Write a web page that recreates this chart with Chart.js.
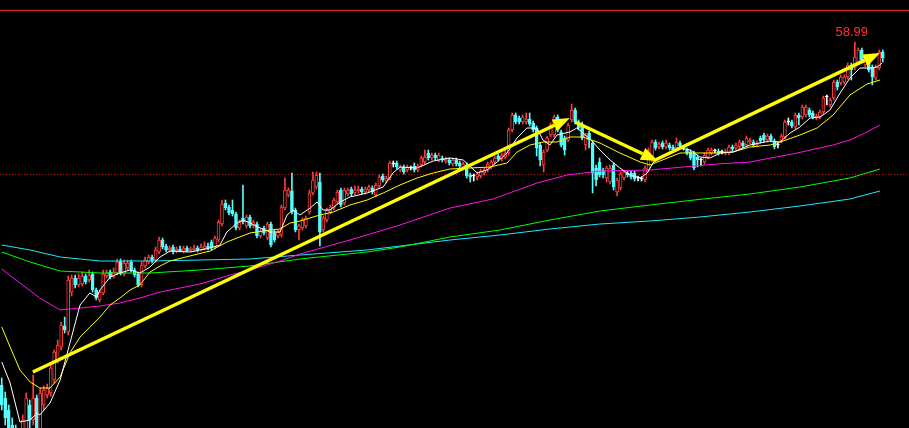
<!DOCTYPE html>
<html>
<head>
<meta charset="utf-8">
<script src="https://cdn.jsdelivr.net/npm/chart.js@4.4.1/dist/chart.umd.min.js"></script>
<style>
  html, body { margin: 0; padding: 0; background: #000; }
  #c { display: block; }
</style>
</head>
<body>
<canvas id="c" width="909" height="428"></canvas>
<script>
// 일봉 데이터 (시가/고가/저가/종가)
var opens = [
  41.85, 41.2, 40.6, 39.85, 39.6, 39.1, 38.85, 39.6, 40.85, 40.1,
  41.2, 39.6, 40.85, 41.35, 41.45, 42.1, 43.1, 43.75, 44.8, 44.5,
  46.5, 47.2, 46.85, 46.9, 47.3, 47.1, 47.4, 46.6, 46.1, 46.45,
  47.3, 47.5, 47.25, 47.45, 48.05, 47.4, 47.7, 48.0, 47.6, 47.4,
  46.85, 47.8, 48.0, 48.25, 48.1, 48.5, 49.1, 48.8, 48.6, 48.75,
  48.55, 48.65, 48.55, 48.7, 48.55, 48.6, 48.7, 48.6, 48.65, 48.8,
  49.0, 48.75, 49.1, 49.9, 50.95, 50.75, 50.6, 50.4, 49.7, 50.2,
  49.8, 50.25, 49.8, 49.9, 49.3, 49.7, 49.2, 49.9, 49.45, 49.3,
  49.35, 50.7, 51.35, 51.55, 50.6, 49.6, 49.7, 49.8, 50.5, 51.45,
  51.75, 52.0, 49.6, 50.1, 50.5, 50.7, 51.0, 51.6, 50.95, 51.4,
  51.65, 51.45, 51.55, 51.65, 51.5, 51.6, 51.7, 51.35, 51.8, 52.3,
  52.05, 52.2, 52.9, 52.95, 52.6, 52.75, 52.6, 52.7, 52.8, 52.6,
  52.85, 53.0, 53.45, 53.2, 53.35, 53.1, 53.2, 53.05, 53.1, 52.9,
  53.1, 52.95, 52.75, 52.85, 52.35, 52.3, 52.25, 52.3, 52.45, 52.6,
  52.75, 53.0, 53.3, 53.15, 53.25, 53.45, 54.6, 55.35, 55.2, 55.0,
  55.0, 55.15, 54.95, 54.7, 53.85, 52.85, 53.6, 54.35, 54.35, 55.25,
  54.5, 54.2, 54.1, 55.1, 55.6, 55.0, 54.9, 53.85, 54.45, 53.95,
  52.7, 53.0, 52.6, 52.2, 52.0, 52.85, 51.5, 51.7, 52.2, 52.45,
  52.45, 52.45, 52.2, 52.15, 52.1, 52.6, 53.1, 54.0, 53.75, 53.95,
  53.75, 53.85, 53.75, 53.7, 53.95, 53.7, 53.6, 53.5, 53.45, 53.25,
  53.1, 53.0, 53.25, 53.45, 53.55, 53.55, 53.5, 53.45, 53.45, 53.75,
  53.7, 53.75, 53.95, 53.85, 54.0, 54.0, 53.85, 54.2, 54.35, 54.1,
  54.3, 54.05, 53.85, 54.05, 54.25, 55.0, 55.0, 54.75, 55.35, 55.25,
  55.35, 55.6, 55.45, 55.2, 55.25, 55.5, 56.25, 55.85, 56.2, 57.0,
  56.95, 57.0, 57.25, 57.85, 57.7, 58.0, 58.6, 57.85, 58.1, 57.75,
  57.2, 57.7, 58.5
];
var highs = [
  42.2, 41.5, 40.85, 40.2, 39.85, 39.5, 40.35, 41.45, 41.1, 42.35,
  41.35, 41.7, 41.8, 41.9, 42.85, 43.6, 44.1, 45.0, 45.25, 47.3,
  47.35, 47.35, 47.4, 47.5, 47.4, 47.6, 47.5, 46.7, 46.6, 47.6,
  47.6, 47.6, 47.7, 48.15, 48.15, 48.1, 48.1, 48.1, 47.7, 47.5,
  48.0, 48.25, 48.35, 48.35, 48.75, 49.25, 49.2, 48.9, 48.8, 48.85,
  48.75, 48.8, 48.8, 48.8, 48.75, 48.85, 48.8, 48.9, 49.0, 48.95,
  49.1, 49.3, 50.1, 51.1, 51.1, 50.85, 51.1, 50.5, 50.1, 51.85,
  50.35, 50.35, 50.1, 50.0, 49.65, 49.8, 50.0, 50.0, 49.6, 49.6,
  50.85, 52.2, 51.7, 52.45, 50.7, 49.9, 50.2, 50.3, 51.6, 52.5,
  52.5, 52.45, 50.3, 50.7, 50.85, 51.2, 51.6, 51.7, 51.7, 51.7,
  51.75, 51.8, 51.8, 51.75, 51.75, 51.85, 51.8, 51.95, 52.35, 52.4,
  52.3, 53.05, 53.05, 53.05, 52.85, 52.85, 52.85, 52.8, 52.95, 52.9,
  53.3, 53.6, 53.6, 53.45, 53.45, 53.45, 53.3, 53.25, 53.2, 53.2,
  53.2, 53.05, 53.0, 52.95, 52.45, 52.4, 52.5, 52.65, 52.7, 53.0,
  53.1, 53.3, 53.4, 53.45, 53.6, 54.7, 55.45, 55.45, 55.3, 55.35,
  55.45, 55.45, 55.05, 54.8, 53.95, 53.6, 54.3, 54.95, 55.35, 55.35,
  54.6, 54.3, 54.95, 55.9, 55.7, 55.1, 55.0, 54.45, 54.55, 54.05,
  52.85, 53.2, 52.7, 52.8, 52.85, 52.95, 52.2, 52.5, 52.6, 52.55,
  52.55, 52.55, 52.3, 52.25, 52.8, 53.7, 54.1, 54.1, 54.0, 54.05,
  54.1, 53.95, 53.85, 54.2, 54.05, 53.8, 53.7, 53.6, 53.55, 53.35,
  53.2, 53.45, 53.7, 53.7, 53.65, 53.65, 53.6, 53.65, 53.85, 53.85,
  53.95, 54.1, 54.05, 54.3, 54.2, 54.1, 54.05, 54.3, 54.45, 54.4,
  54.4, 54.15, 53.95, 54.4, 55.1, 55.2, 55.1, 55.45, 55.45, 55.85,
  55.85, 55.7, 55.55, 55.4, 55.6, 56.3, 56.35, 56.2, 57.1, 57.1,
  57.35, 57.35, 57.95, 57.95, 58.99, 58.7, 58.7, 58.2, 58.2, 57.85,
  57.85, 58.6, 58.6
];
var lows = [
  40.6, 39.85, 39.1, 38.8, 38.6, 38.35, 38.5, 39.1, 39.7, 39.85,
  39.2, 39.3, 40.6, 41.2, 41.3, 41.95, 42.95, 43.6, 44.45, 44.35,
  46.3, 46.7, 46.75, 46.8, 46.9, 47.0, 46.5, 46.1, 46.0, 46.35,
  47.2, 47.15, 47.2, 47.35, 47.35, 47.3, 47.6, 47.5, 47.25, 46.75,
  46.75, 47.7, 47.9, 47.95, 48.0, 48.4, 48.65, 48.5, 48.5, 48.4,
  48.45, 48.5, 48.45, 48.5, 48.5, 48.55, 48.5, 48.55, 48.6, 48.6,
  48.6, 48.65, 49.0, 49.8, 50.6, 50.35, 50.3, 49.6, 49.6, 49.9,
  49.7, 49.7, 49.7, 49.2, 49.2, 49.35, 49.1, 48.75, 49.0, 49.2,
  49.25, 50.6, 51.25, 50.4, 49.5, 49.1, 49.6, 49.7, 50.4, 51.35,
  51.65, 48.8, 49.5, 50.0, 50.4, 50.6, 50.9, 50.75, 50.85, 51.3,
  51.3, 51.35, 51.45, 51.4, 51.4, 51.5, 51.4, 51.25, 51.7, 52.0,
  51.95, 52.1, 52.75, 52.65, 52.5, 52.4, 52.5, 52.6, 52.5, 52.5,
  52.75, 52.9, 53.1, 53.1, 53.1, 53.0, 53.0, 52.95, 52.85, 52.8,
  52.8, 52.7, 52.65, 52.2, 52.0, 52.05, 52.1, 52.2, 52.35, 52.5,
  52.65, 52.9, 53.05, 53.05, 53.15, 53.35, 54.5, 54.9, 54.9, 54.9,
  54.9, 54.8, 54.5, 53.3, 52.8, 52.5, 53.5, 54.25, 54.25, 54.5,
  53.75, 53.35, 54.0, 55.0, 54.9, 54.6, 54.1, 53.6, 53.7, 51.45,
  51.8, 52.25, 52.2, 52.0, 51.9, 51.6, 51.3, 51.6, 52.1, 52.25,
  52.15, 52.05, 52.05, 52.05, 52.0, 52.5, 53.0, 53.6, 53.65, 53.65,
  53.65, 53.6, 53.5, 53.6, 53.7, 53.6, 53.35, 53.1, 52.6, 52.75,
  52.8, 52.9, 53.15, 53.35, 53.45, 53.35, 53.4, 53.35, 53.35, 53.55,
  53.6, 53.65, 53.7, 53.75, 53.9, 53.75, 53.75, 53.95, 54.0, 54.0,
  54.0, 53.65, 53.7, 53.95, 54.15, 54.85, 54.7, 54.65, 54.85, 55.15,
  55.25, 55.25, 55.15, 55.1, 55.15, 55.4, 55.85, 55.75, 56.1, 56.6,
  56.85, 56.9, 57.15, 57.1, 57.6, 57.9, 58.0, 57.75, 57.5, 56.85,
  57.1, 57.6, 58.0
];
var closes = [
  40.85, 40.2, 39.5, 39.1, 38.85, 38.7, 40.1, 41.2, 40.1, 41.2,
  39.6, 41.45, 41.6, 41.7, 42.7, 43.5, 43.85, 44.85, 44.6, 47.1,
  47.2, 46.85, 47.2, 47.3, 47.0, 47.35, 46.6, 46.2, 46.5, 47.4,
  47.45, 47.25, 47.5, 48.0, 47.45, 47.95, 47.95, 47.6, 47.35, 46.85,
  47.85, 48.1, 48.25, 48.05, 48.6, 49.1, 48.75, 48.6, 48.7, 48.5,
  48.65, 48.55, 48.7, 48.55, 48.65, 48.7, 48.6, 48.75, 48.8, 48.7,
  48.7, 49.2, 50.0, 50.9, 50.7, 50.45, 50.4, 49.7, 50.0, 50.0,
  50.25, 49.8, 50.0, 49.3, 49.55, 49.45, 49.9, 48.85, 49.1, 49.5,
  50.75, 51.6, 51.6, 50.5, 49.6, 49.8, 50.1, 50.2, 51.45, 52.1,
  52.35, 49.5, 50.2, 50.6, 50.75, 51.1, 51.5, 50.85, 51.6, 51.6,
  51.4, 51.6, 51.65, 51.5, 51.65, 51.75, 51.5, 51.85, 52.25, 52.1,
  52.2, 52.95, 52.9, 52.75, 52.75, 52.5, 52.75, 52.7, 52.6, 52.8,
  53.2, 53.25, 53.2, 53.35, 53.2, 53.35, 53.1, 53.15, 52.95, 53.1,
  52.9, 52.8, 52.9, 52.3, 52.25, 52.3, 52.4, 52.55, 52.6, 52.9,
  53.0, 53.2, 53.15, 53.35, 53.45, 54.6, 55.35, 55.0, 55.0, 55.25,
  55.15, 54.9, 54.6, 53.7, 53.1, 53.5, 54.2, 54.85, 55.25, 54.6,
  53.85, 53.6, 54.85, 55.6, 55.0, 54.7, 54.2, 54.35, 54.1, 52.45,
  52.1, 52.35, 52.35, 52.7, 52.7, 51.75, 52.1, 52.4, 52.5, 52.35,
  52.25, 52.15, 52.2, 52.15, 52.7, 53.25, 54.0, 53.7, 53.9, 53.75,
  53.95, 53.7, 53.6, 54.0, 53.8, 53.7, 53.45, 53.2, 52.7, 53.1,
  53.1, 53.35, 53.6, 53.6, 53.55, 53.45, 53.5, 53.55, 53.75, 53.65,
  53.85, 54.0, 53.8, 54.2, 54.1, 53.85, 53.95, 54.05, 54.1, 54.3,
  54.1, 53.75, 53.85, 54.3, 55.0, 55.0, 54.8, 55.35, 55.2, 55.75,
  55.75, 55.35, 55.25, 55.3, 55.5, 56.2, 56.25, 56.1, 57.0, 56.75,
  57.25, 57.25, 57.85, 57.6, 58.25, 58.6, 58.1, 58.1, 57.6, 57.25,
  57.75, 58.5, 58.2
];

// 이동평균선 (그림에서 읽은 위치: 봉 번호 / 가격)
var ma5At = [0, 2.4, 5.2, 8.1, 10.1, 10.9, 13.8, 16.7, 19.5, 22.4, 25.2, 27.2, 28.1, 31, 33.8, 36.7, 39.5, 42.4, 45.3, 48.1,
  53.8, 59.6, 62.4, 64.4, 67.3, 69, 71, 73.9, 76.7, 79.6, 81.6, 83.3, 85.3, 88.2, 90.2, 91.9, 93.9, 96.8, 99.6, 104.5,
  109.1, 111.9, 113.9, 118.8, 123.4, 128.2, 132, 136, 138.8, 141.7, 144.5, 147.4, 150.2, 153.1, 154.8, 156.8, 158.8, 162.5, 164.5, 166.3,
  169.1, 171.1, 174, 176.8, 179.7, 182.6, 184.6, 186.3, 188.3, 191.1, 194, 196.9, 199.7, 202.6, 205.5, 209.2, 214, 219.8, 222.6, 225.5,
  228.3, 231.2, 234.1, 236.9, 239.8, 242.6, 245.5, 248.4, 250.4, 251.8];
var ma5 = [43.0, 41.95, 40.0, 40.1, 40.45, 40.35, 40.95, 42.1, 43.95, 45.85, 46.45, 46.25, 46.6, 47.25, 47.45, 47.6, 47.45, 47.75, 48.25, 48.55,
  48.5, 48.7, 48.85, 49.5, 49.95, 50.1, 49.95, 49.7, 49.5, 49.5, 50.35, 50.6, 50.35, 50.7, 51.0, 50.6, 50.6, 51.0, 51.25, 51.45,
  51.75, 52.45, 52.75, 52.7, 53.05, 53.2, 53.1, 52.45, 52.6, 53.0, 53.45, 54.2, 54.7, 54.7, 54.1, 53.85, 54.35, 54.5, 54.7, 54.45,
  54.0, 53.6, 53.1, 52.7, 52.35, 52.2, 52.45, 52.95, 53.25, 53.5, 53.7, 53.6, 53.25, 53.2, 53.45, 53.5, 53.85, 54.05, 54.0, 54.45,
  54.75, 55.2, 55.25, 55.6, 56.45, 57.2, 57.7, 57.7, 57.75, 57.95];

var ma10At = [0, 2.4, 5.2, 8.1, 10.9, 13.8, 16.7, 19.5, 22.4, 25.2, 28.1, 31, 33.8, 36.7, 39.5, 42.4, 45.3, 48.1, 53.8, 59.6,
  64.4, 67.3, 71, 76.7, 79.6, 82.5, 85.3, 91, 94.8, 99.6, 104.5, 109.1, 113.9, 118.8, 123.4, 128.2, 134, 139.7, 144.5, 147.4,
  151.1, 154.8, 158.8, 162.5, 166.3, 171.1, 176.8, 182.6, 185.4, 194, 199.7, 204.6, 209.2, 214, 219.8, 223.5, 228.3, 233.2, 237.8, 242.6,
  247.5, 251.2];
var ma10 = [44.75, 43.75, 42.6, 42.0, 41.7, 41.7, 42.25, 43.45, 44.25, 44.75, 45.25, 45.85, 46.2, 46.6, 46.85, 47.5, 47.8, 48.05, 48.3, 48.55,
  49.0, 49.2, 49.45, 49.6, 49.65, 49.95, 50.05, 50.35, 50.5, 50.85, 51.1, 51.45, 51.85, 52.2, 52.45, 52.65, 52.7, 52.75, 52.95, 53.5,
  53.85, 54.0, 54.0, 54.25, 54.25, 53.95, 53.45, 53.0, 52.85, 53.45, 53.45, 53.45, 53.5, 53.75, 53.85, 54.05, 54.35, 54.7, 55.35, 56.35,
  56.9, 57.1];

var ma20At = [0, 5.2, 10.9, 16.7, 22.4, 28.1, 33.8, 39.5, 45.3, 51, 56.7, 65.3, 71, 80.5, 85.3, 99.6, 113.9, 128.2, 140.5, 153.1,
  161.7, 171.1, 185.4, 194.9, 204.6, 214, 227.5, 237.8, 242.6, 247.5, 251.2];
var ma20 = [47.65, 46.95, 46.2, 45.6, 45.7, 45.8, 45.95, 46.2, 46.5, 46.7, 46.9, 47.35, 47.6, 48.1, 48.4, 49.1, 49.85, 50.7, 51.15, 51.95,
  52.35, 52.55, 52.6, 52.75, 52.9, 53.0, 53.45, 53.85, 54.1, 54.5, 54.85];

var ma60At = [0, 8.1, 16.7, 28.1, 42.4, 56.7, 71, 85.3, 104.5, 113.9, 128.2, 142.5, 156.8, 171.1, 185.4, 200.6, 214, 228.3, 242.6, 251.2];
var ma60 = [48.5, 48.0, 47.55, 47.45, 47.45, 47.6, 47.8, 48.15, 48.5, 48.75, 49.25, 49.6, 50.1, 50.55, 50.85, 51.15, 51.4, 51.75, 52.2, 52.65];

var ma120At = [0, 8.1, 16.7, 22.4, 28.1, 42.4, 56.7, 71, 85.3, 104.5, 128.2, 142.5, 156.8, 171.1, 185.4, 199.7, 214, 228.3, 242.6, 251.2];
var ma120 = [48.85, 48.6, 48.25, 48.15, 48.05, 48.05, 48.1, 48.15, 48.35, 48.6, 49.1, 49.35, 49.65, 49.9, 50.05, 50.25, 50.5, 50.8, 51.15, 51.55];

// 기준선, 화살표 (봉 번호 / 가격)
var topLine = 60.6;
var refLine = 52.4;
var arrows = [
  [8.9, 42.5, 162.5, 55.2],
  [164, 55.0, 187.7, 53.05],
  [186.3, 53.05, 251.2, 58.45]
];

var RED = '#ff3c3c', CYAN = '#54fcfc', WHITE = '#ffffff';

function candleColor(i) {
  if (closes[i] > opens[i]) return RED;
  if (closes[i] < opens[i]) return CYAN;
  return WHITE;
}
var colors = opens.map(function (o, i) { return candleColor(i); });
var fills = opens.map(function (o, i) { return colors[i] === RED ? '#000000' : colors[i]; });

function pts(at, vals) {
  return at.map(function (x, k) { return { x: x, y: vals[k] }; });
}
function maLine(at, vals, color, order) {
  return {
    type: 'line', data: pts(at, vals), borderColor: color, borderWidth: 1,
    pointRadius: 0, tension: 0, fill: false, order: order
  };
}

var overlay = {
  id: 'overlay',
  beforeDatasetsDraw: function (chart) {
    var ctx = chart.ctx, ys = chart.scales.y, a = chart.chartArea;
    ctx.save();
    var y1 = Math.round(ys.getPixelForValue(topLine)) + 0.5;
    ctx.strokeStyle = '#d21e1e';
    ctx.lineWidth = 1.5;
    ctx.beginPath(); ctx.moveTo(a.left, y1); ctx.lineTo(a.right, y1); ctx.stroke();
    var y2 = Math.round(ys.getPixelForValue(refLine)) + 0.5;
    ctx.strokeStyle = '#b41414';
    ctx.lineWidth = 1;
    ctx.setLineDash([1, 2]);
    ctx.beginPath(); ctx.moveTo(a.left, y2); ctx.lineTo(a.right, y2); ctx.stroke();
    ctx.restore();
  },
  afterDatasetsDraw: function (chart) {
    var ctx = chart.ctx, xs = chart.scales.x, ys = chart.scales.y;
    ctx.save();
    ctx.strokeStyle = '#ffff00';
    ctx.fillStyle = '#ffff00';
    ctx.lineWidth = 3.5;
    ctx.lineCap = 'butt';
    arrows.forEach(function (r) {
      var x1 = xs.getPixelForValue(r[0]), y1 = ys.getPixelForValue(r[1]);
      var x2 = xs.getPixelForValue(r[2]), y2 = ys.getPixelForValue(r[3]);
      var ang = Math.atan2(y2 - y1, x2 - x1), head = 17, half = 6.5;
      var bx = x2 - head * Math.cos(ang), by = y2 - head * Math.sin(ang);
      ctx.beginPath(); ctx.moveTo(x1, y1); ctx.lineTo(bx, by); ctx.stroke();
      ctx.beginPath();
      ctx.moveTo(x2, y2);
      ctx.lineTo(bx + half * Math.sin(ang), by - half * Math.cos(ang));
      ctx.lineTo(bx - half * Math.sin(ang), by + half * Math.cos(ang));
      ctx.closePath(); ctx.fill();
    });

    // 최고가 표시
    var hi = 0;
    highs.forEach(function (h, i) { if (h > highs[hi]) hi = i; });
    ctx.fillStyle = '#ff3030';
    ctx.font = '13px "Liberation Sans", Arial, sans-serif';
    ctx.textAlign = 'center';
    ctx.textBaseline = 'bottom';
    ctx.fillText(highs[hi].toFixed(2), xs.getPixelForValue(hi) - 3, ys.getPixelForValue(highs[hi]) - 3);
    ctx.restore();
  }
};

var ctx = document.getElementById('c').getContext('2d');
var chart = new Chart(ctx, {
  type: 'bar',
  data: {
    datasets: [
      maLine(ma5At, ma5, '#ffffff', 1),
      maLine(ma10At, ma10, '#ffff00', 1),
      maLine(ma20At, ma20, '#ff10e8', 2),
      maLine(ma60At, ma60, '#00ff00', 2),
      maLine(ma120At, ma120, '#20e8ff', 2),
      {
        type: 'bar',
        data: opens.map(function (o, i) { return { x: i, y: [o, closes[i]] }; }),
        backgroundColor: fills,
        borderColor: colors,
        borderWidth: 1,
        borderSkipped: false,
        barThickness: 3,
        minBarLength: 1,
        grouped: false,
        order: 3
      },
      {
        type: 'bar',
        data: lows.map(function (l, i) { return { x: i, y: [l, highs[i]] }; }),
        backgroundColor: colors,
        borderWidth: 0,
        barThickness: 1,
        grouped: false,
        order: 4
      }
    ]
  },
  options: {
    responsive: false,
    animation: false,
    events: [],
    layout: { padding: 0 },
    plugins: { legend: { display: false }, tooltip: { enabled: false } },
    scales: {
      x: { type: 'linear', min: -0.5, max: 259.5, display: false, offset: false },
      y: { min: 39.7, max: 61.1, display: false }
    }
  },
  plugins: [overlay]
});
</script>
</body>
</html>
